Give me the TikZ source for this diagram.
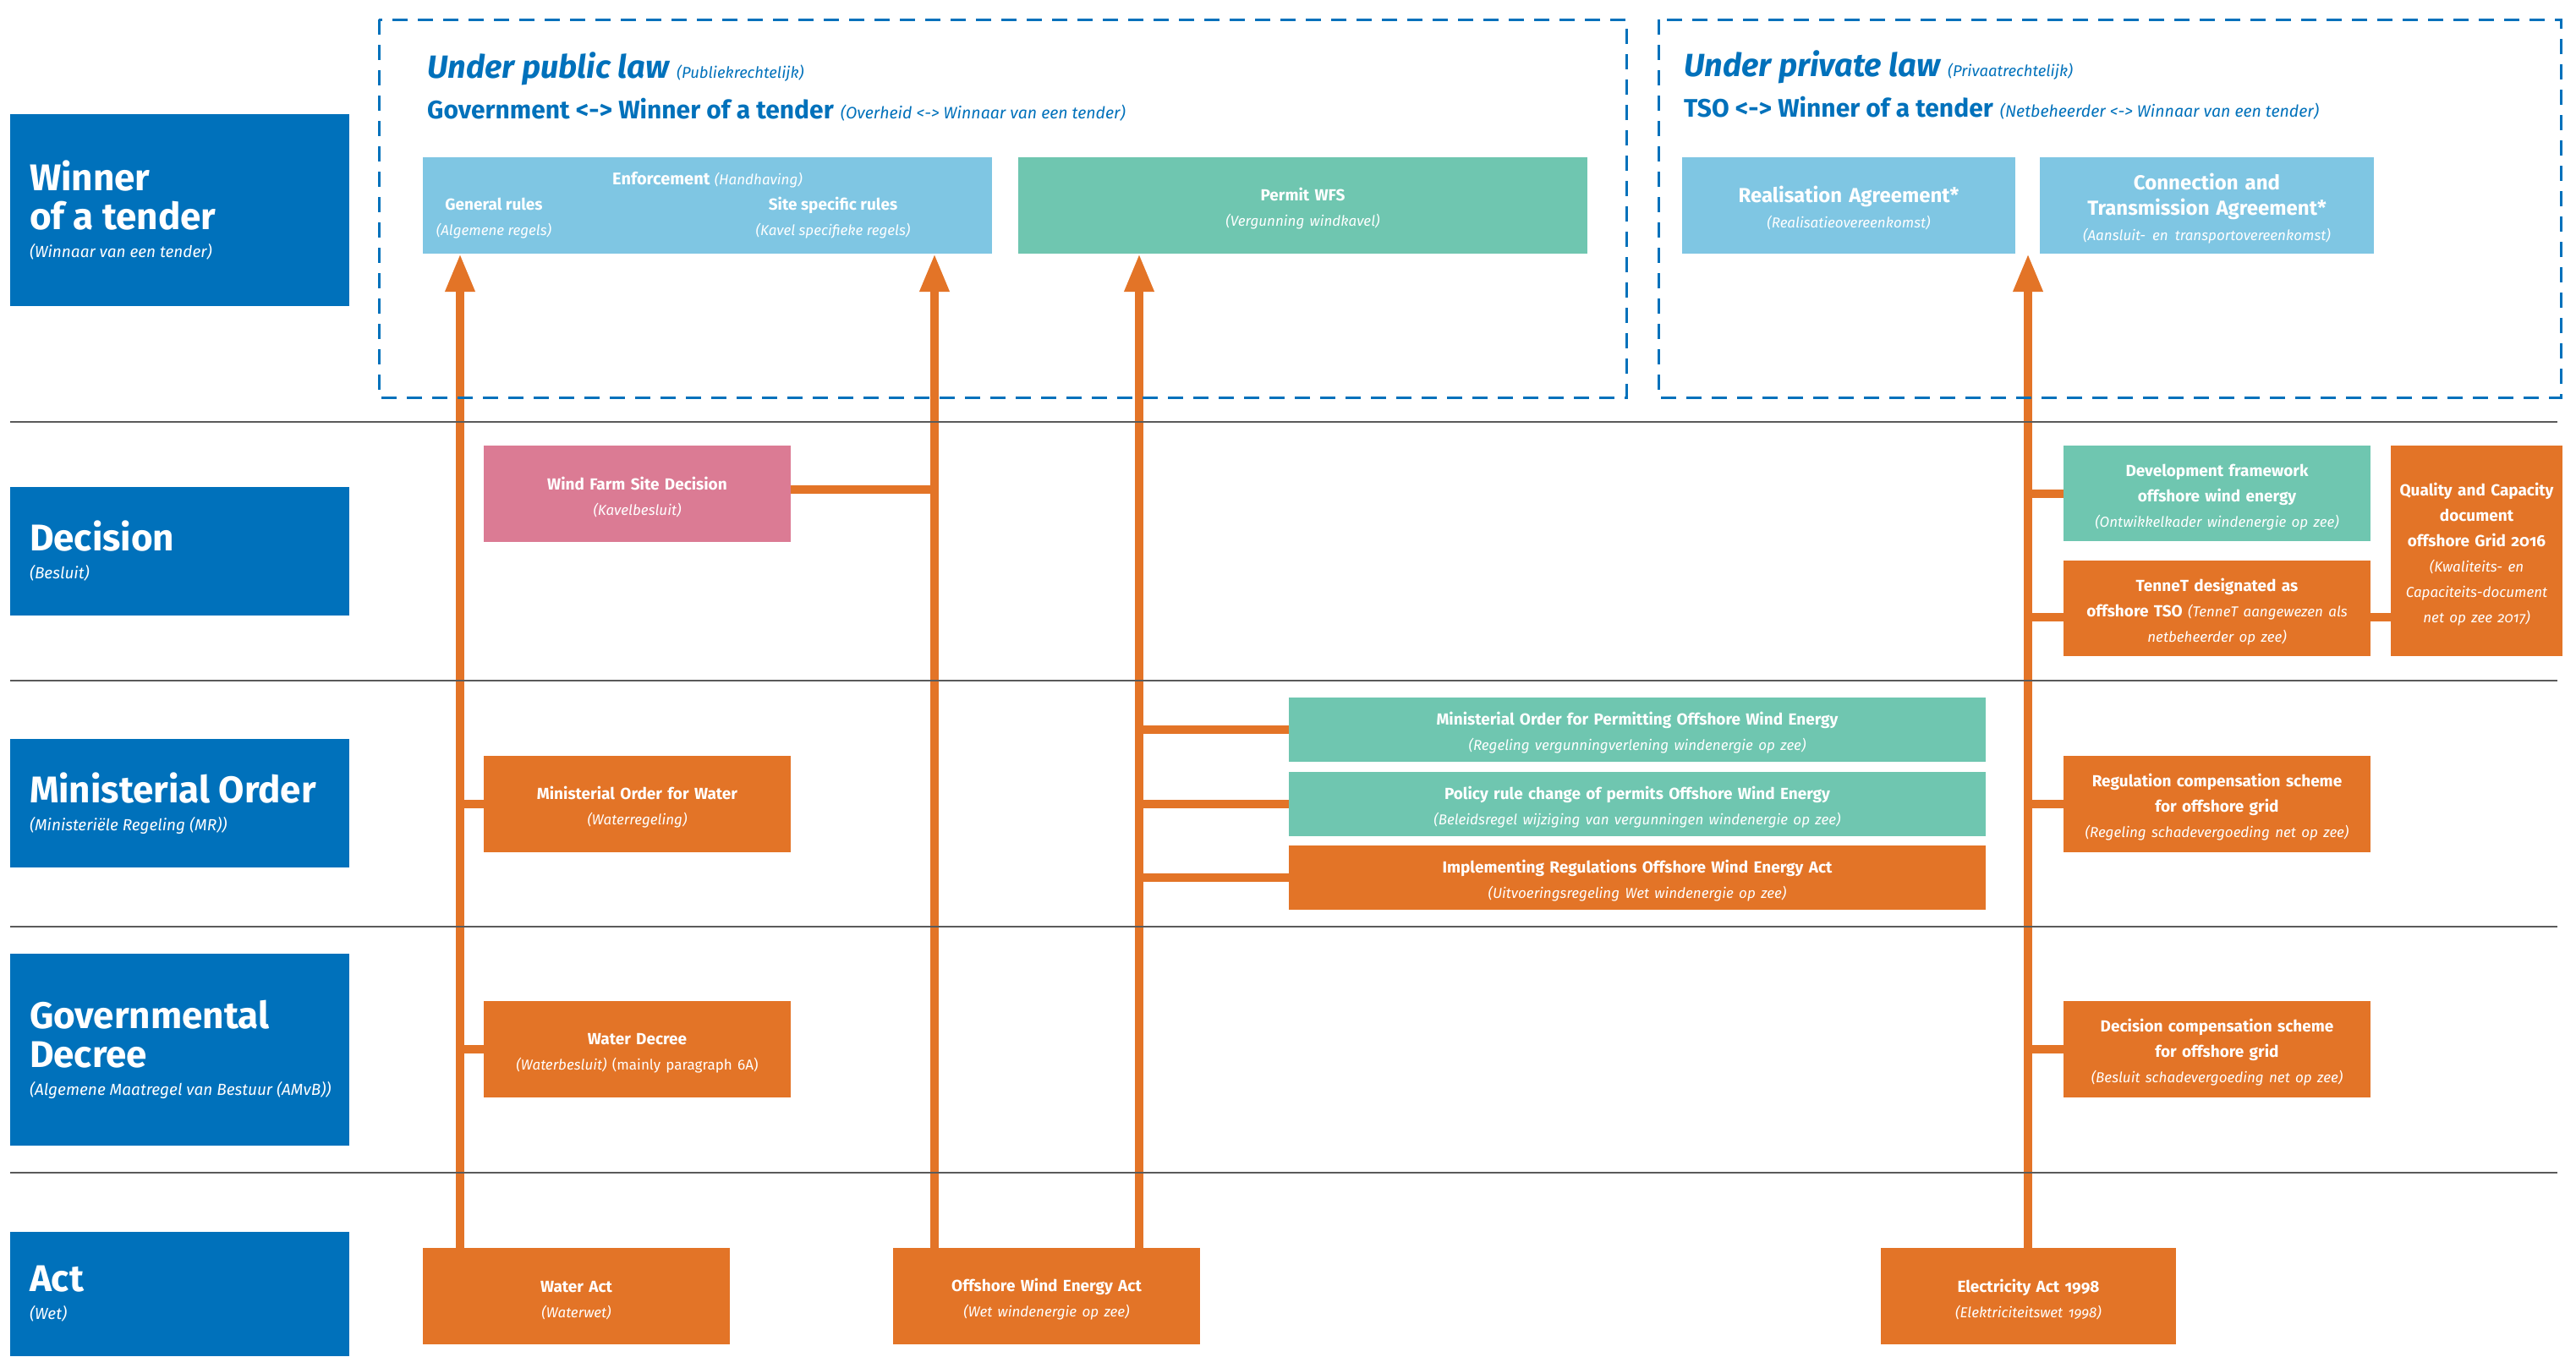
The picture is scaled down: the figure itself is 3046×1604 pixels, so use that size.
\documentclass[tikz,border=0pt]{standalone}
\usepackage{fontspec}
\setmainfont{Fira Sans}[Numbers=OldStyle]
\usetikzlibrary{arrows.meta}
\definecolor{rblue}{HTML}{0071BB}
\definecolor{lblue}{HTML}{7FC6E3}
\definecolor{rgreen}{HTML}{6FC6B0}
\definecolor{rpink}{HTML}{DB7B94}
\definecolor{rorange}{HTML}{E37427}
\definecolor{rgray}{HTML}{5A5A5A}
\newcommand\bigf{\fontsize{44}{46}\selectfont\bfseries\spaceskip=0pt\xspaceskip=0pt }
\newcommand\lsub[1]{{\normalfont\fontsize{19}{33}\selectfont\itshape\spaceskip=0pt\xspaceskip=0pt #1\par}}
\newcommand\bsub[1]{{\normalfont\fontsize{17}{30}\selectfont\itshape #1\par}}
\newcommand\isub[1]{{\normalfont\fontsize{17}{30}\selectfont\itshape #1}}
\newcommand\tstrut{\rule{0pt}{23pt}}
\tikzset{
  lbl/.style={fill=rblue, text=white, minimum width=401pt, inner xsep=23pt, inner ysep=0pt, text width=355pt, align=left},
  box/.style={text=white, inner sep=0pt, align=center, font=\fontsize{19}{30}\selectfont\bfseries},
  txt/.style={text=white, inner sep=0pt},
  ttl/.style={text=rblue, inner sep=0pt, anchor=base west},
  arr/.style={draw=rorange, line width=10pt, -{Triangle[length=45pt,width=33pt]}},
  conn/.style={draw=rorange, line width=10pt},
  sepline/.style={draw=rgray, line width=2.5pt},
  dashbox/.style={draw=rblue, line width=3pt, dash pattern=on 18pt off 12pt}
}
\begin{document}
\begin{tikzpicture}[x=1pt,y=-1pt]
\useasboundingbox (0,0) rectangle (3046,1604);
\fill[white] (0,0) rectangle (3046,1604);

% left labels
\node[lbl, minimum height=227pt] (lwin) at (212.5,248.5) {{\bigf Winner\\of a tender\par}\lsub{(Winnaar van een tender)}};
\node[lbl, minimum height=152pt] (ldec) at (212.5,652) {{\bigf Decision\par}\lsub{(Besluit)}};
\node[lbl, minimum height=152pt] (lmo) at (212.5,950) {{\bigf Ministerial Order\par}\lsub{(Ministeriële Regeling (MR))}};
\node[lbl, minimum height=227pt] (lgd) at (212.5,1241.5) {{\bigf Governmental\\Decree\par}\lsub{\mbox{(Algemene Maatregel van Bestuur (AMvB))}}};
\node[lbl, minimum height=147pt] (lact) at (212.5,1530.5) {{\bigf Act\par}\lsub{(Wet)}};

% titles
\node[ttl] (tpub) at (505,92) {{\fontsize{38}{40}\selectfont\bfseries\itshape Under public law}\hspace{9pt}{\fontsize{18.5}{20}\selectfont\itshape (Publiekrechtelijk)}};
\node[ttl] (gpub) at (505,140) {{\fontsize{30}{32}\selectfont\bfseries Government <-> Winner of a tender}\hspace{8pt}{\fontsize{19.5}{22}\selectfont\itshape (Overheid <-> Winnaar van een tender)}};
\node[ttl] (tpriv) at (1991,90) {{\fontsize{38}{40}\selectfont\bfseries\itshape Under private law}\hspace{9pt}{\fontsize{18.5}{20}\selectfont\itshape (Privaatrechtelijk)}};
\node[ttl] (gpriv) at (1991,138) {{\fontsize{30}{32}\selectfont\bfseries TSO <-> Winner of a tender}\hspace{8pt}{\fontsize{19.5}{22}\selectfont\itshape (Netbeheerder <-> Winnaar van een tender)}};

% top boxes
\node[box, fill=lblue, text width=673pt, minimum height=114pt] (enf) at (836.5,243) {};
\node[txt, anchor=base, font=\fontsize{20}{24}\selectfont] (enft) at (836.5,218) {{\bfseries Enforcement} \isub{(Handhaving)}};
\node[txt, anchor=base, font=\fontsize{19}{24}\selectfont\bfseries] (genr) at (584,248) {General rules};
\node[txt, anchor=base] (genrs) at (584,278) {\isub{(Algemene regels)}};
\node[txt, anchor=base, font=\fontsize{19}{24}\selectfont\bfseries] (sitr) at (985,248) {Site specific rules};
\node[txt, anchor=base] (sitrs) at (985,278) {\isub{(Kavel specifieke regels)}};
\node[box, fill=rgreen, text width=673pt, minimum height=114pt] (pwfs) at (1540.5,243) {\tstrut Permit WFS\par\bsub{(Vergunning windkavel)}};
\node[box, fill=lblue, text width=394pt, minimum height=114pt, font=\fontsize{24}{30}\selectfont\bfseries] (real) at (2186,243) {\rule{0pt}{26pt}Realisation Agreement*\par\bsub{(Realisatieovereenkomst)}};
\node[box, fill=lblue, text width=395pt, minimum height=114pt, font=\fontsize{24}{30}\selectfont\bfseries] (cta) at (2609.5,243) {\rule{0pt}{26pt}Connection and\\Transmission Agreement*\par\bsub{(Aansluit- en transportovereenkomst)}};

% decision row
\node[box, fill=rpink, text width=363pt, minimum height=114pt] (wfsd) at (753.5,584) {\tstrut Wind Farm Site Decision\par\bsub{(Kavelbesluit)}};
\node[box, fill=rgreen, text width=363pt, minimum height=113pt] (devf) at (2621.5,583.5) {\tstrut Development framework\\offshore wind energy\par\bsub{(Ontwikkelkader windenergie op zee)}};
\node[box, fill=rorange, text width=363pt, minimum height=113pt] (tennet) at (2621.5,719.5) {\tstrut TenneT designated as\\offshore TSO \isub{(TenneT aangewezen als}\\\isub{netbeheerder op zee)}};
\node[box, fill=rorange, text width=203pt, minimum height=249pt] (qual) at (2928.5,651.5) {\tstrut Quality and Capacity\\document\\offshore Grid 2016\par\bsub{(Kwaliteits- en\\Capaciteits-document\\net op zee 2017)}};

% ministerial order row
\node[box, fill=rorange, text width=363pt, minimum height=114pt] (mow) at (753.5,951) {\tstrut Ministerial Order for Water\par\bsub{(Waterregeling)}};
\node[box, fill=rgreen, text width=824pt, minimum height=76pt] (mopw) at (1936,863) {\tstrut Ministerial Order for Permitting Offshore Wind Energy\par\bsub{(Regeling vergunningverlening windenergie op zee)}};
\node[box, fill=rgreen, text width=824pt, minimum height=76pt] (prc) at (1936,951) {\tstrut Policy rule change of permits Offshore Wind Energy\par\bsub{(Beleidsregel wijziging van vergunningen windenergie op zee)}};
\node[box, fill=rorange, text width=824pt, minimum height=76pt] (ira) at (1936,1038) {\tstrut Implementing Regulations Offshore Wind Energy Act\par\bsub{(Uitvoeringsregeling Wet windenergie op zee)}};
\node[box, fill=rorange, text width=363pt, minimum height=114pt] (rcs) at (2621.5,951) {\tstrut Regulation compensation scheme\\for offshore grid\par\bsub{(Regeling schadevergoeding net op zee)}};

% governmental decree row
\node[box, fill=rorange, text width=363pt, minimum height=114pt] (wd) at (753.5,1241) {\tstrut Water Decree\par\bsub{(Waterbesluit) {\upshape(mainly paragraph 6A)}}};
\node[box, fill=rorange, text width=363pt, minimum height=114pt] (dcs) at (2621.5,1241) {\tstrut Decision compensation scheme\\for offshore grid\par\bsub{(Besluit schadevergoeding net op zee)}};

% act row
\node[box, fill=rorange, text width=363pt, minimum height=114pt] (wa) at (681.5,1533) {\tstrut Water Act\par\bsub{(Waterwet)}};
\node[box, fill=rorange, text width=363pt, minimum height=114pt] (owea) at (1237.5,1533) {\tstrut Offshore Wind Energy Act\par\bsub{(Wet windenergie op zee)}};
\node[box, fill=rorange, text width=349pt, minimum height=114pt] (ea) at (2398.5,1533) {\tstrut Electricity Act 1998\par\bsub{(Elektriciteitswet 1998)}};

% arrow columns
\coordinate (a1) at (544,0);
\coordinate (a2) at (1105,0);
\coordinate (a3) at (1347,0);
\coordinate (a4) at (2398,0);
\coordinate (tq) at (0,730);

% branch connectors
\draw[conn] ([yshift=5pt]wfsd.east) -- ([yshift=5pt]wfsd.east -| a2);
\draw[conn] (mow.west) -- (mow.west -| a1);
\draw[conn] (wd.west) -- (wd.west -| a1);
\draw[conn] (mopw.west) -- (mopw.west -| a3);
\draw[conn] (prc.west) -- (prc.west -| a3);
\draw[conn] (ira.west) -- (ira.west -| a3);
\draw[conn] (devf.west) -- (devf.west -| a4);
\draw[conn] (tennet.west |- tq) -- (a4 |- tq);
\draw[conn] (tennet.east |- tq) -- (qual.west |- tq);
\draw[conn] (rcs.west) -- (rcs.west -| a4);
\draw[conn] (dcs.west) -- (dcs.west -| a4);

% arrows
\draw[arr] (wa.north -| a1) -- (enf.south -| a1);
\draw[arr] (owea.north -| a2) -- (enf.south -| a2);
\draw[arr] (owea.north -| a3) -- (pwfs.south -| a3);
\draw[arr] (ea.north -| a4) -- (real.south -| a4);

% separators and frames
\draw[sepline] (12,499) -- (3024,499);
\draw[sepline] (12,805) -- (3024,805);
\draw[sepline] (12,1096) -- (3024,1096);
\draw[sepline] (12,1387) -- (3024,1387);
\draw[dashbox] (448,23) rectangle (1923,470);
\draw[dashbox] (1961,23) rectangle (3028,470);
\end{tikzpicture}
\end{document}
